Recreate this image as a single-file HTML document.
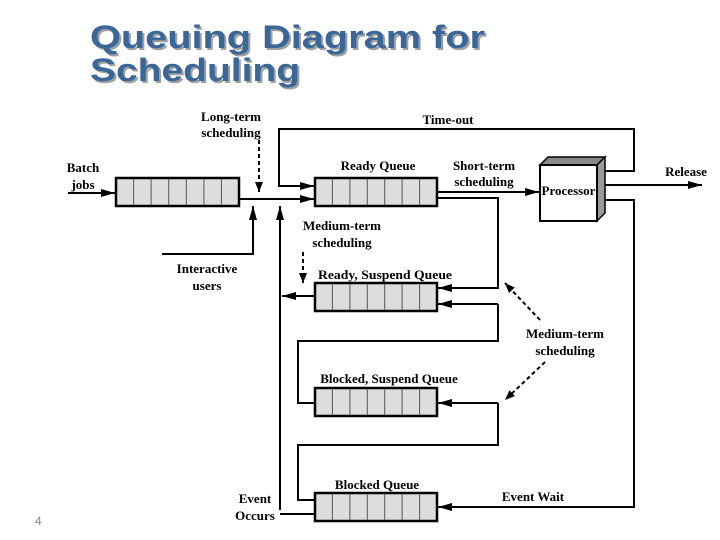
<!DOCTYPE html>
<html><head><meta charset="utf-8"><style>
html,body{margin:0;padding:0;background:#fff;width:720px;height:540px;overflow:hidden}
svg{display:block}
.t{font-family:"Liberation Serif",serif;font-weight:bold;font-size:13px;fill:#000}
.h{font-family:"Liberation Sans",sans-serif;font-weight:bold;font-size:32px}
</style></head><body>
<svg width="720" height="540" viewBox="0 0 720 540">
<defs>
<marker id="a" markerWidth="10" markerHeight="8" refX="10" refY="4" orient="auto" markerUnits="userSpaceOnUse"><path d="M0,0 L10,4 L0,8 Z" fill="#000"/></marker>
<marker id="b" markerWidth="14" markerHeight="8" refX="14" refY="4" orient="auto" markerUnits="userSpaceOnUse"><path d="M0,0 L14,4 L0,8 Z" fill="#000"/></marker>
</defs>
<g class="h">
<text x="92" y="50" fill="#a0a0a0" textLength="395" lengthAdjust="spacingAndGlyphs">Queuing Diagram for</text>
<text x="90" y="48" fill="#3b6798" textLength="395" lengthAdjust="spacingAndGlyphs">Queuing Diagram for</text>
<text x="92" y="83" fill="#a0a0a0" textLength="210" lengthAdjust="spacingAndGlyphs">Scheduling</text>
<text x="90" y="81" fill="#3b6798" textLength="210" lengthAdjust="spacingAndGlyphs">Scheduling</text>
</g>
<text x="35" y="525" font-family="Liberation Sans,sans-serif" font-size="12" fill="#888">4</text>
<g stroke="#000" stroke-width="2.5" fill="#ddd">
<rect x="116" y="178" width="123" height="28"/>
<rect x="315" y="178" width="122" height="28"/>
<rect x="315" y="283" width="122" height="28"/>
<rect x="315" y="388" width="122" height="28"/>
<rect x="315" y="493" width="122" height="28"/>
</g>
<g stroke="#555" stroke-width="1">
<path d="M133.6,179V205M151.1,179V205M168.7,179V205M186.3,179V205M203.9,179V205M221.4,179V205"/>
<path d="M332.4,179V205M349.9,179V205M367.3,179V205M384.7,179V205M402.1,179V205M419.6,179V205"/>
<path d="M332.4,284V310M349.9,284V310M367.3,284V310M384.7,284V310M402.1,284V310M419.6,284V310"/>
<path d="M332.4,389V415M349.9,389V415M367.3,389V415M384.7,389V415M402.1,389V415M419.6,389V415"/>
<path d="M332.4,494V520M349.9,494V520M367.3,494V520M384.7,494V520M402.1,494V520M419.6,494V520"/>
</g>
<g stroke="#000" stroke-width="2" fill="none">
<path d="M68,193H115" marker-end="url(#b)"/>
<path d="M239,199H314" marker-end="url(#b)"/>
<path d="M162,254H253V206" marker-end="url(#b)"/>
<path d="M280,510V206" marker-end="url(#b)"/>
<path d="M597,171H634V129H279V186H314" marker-end="url(#b)"/>
<path d="M437,192H539" marker-end="url(#b)"/>
<path d="M437,198H498V288H438" marker-end="url(#b)"/>
<path d="M315,296H282" marker-end="url(#b)"/>
<path d="M498,304V341H298V403H314"/>
<path d="M498,304H438" marker-end="url(#b)"/>
<path d="M498,403V445H298V500H314"/>
<path d="M498,403H438" marker-end="url(#b)"/>
<path d="M597,200H634V507H438" marker-end="url(#b)"/>
<path d="M315,514H280"/>
<path d="M597,185H702" marker-end="url(#b)"/>
</g>
<g stroke="#000" stroke-width="2" fill="none" stroke-dasharray="4,3">
<path d="M259,140V192" marker-end="url(#a)"/>
<path d="M303,252V283" marker-end="url(#a)"/>
<path d="M540,320L505,283" marker-end="url(#a)"/>
<path d="M545,362L505,400" marker-end="url(#a)"/>
</g>
<path d="M540,165L548,157H605L597,165Z" fill="#888" stroke="#000" stroke-width="1.5"/>
<path d="M597,165L605,157V213L597,221Z" fill="#999" stroke="#000" stroke-width="1.5"/>
<rect x="540" y="165" width="57" height="56" fill="#fff" stroke="#000" stroke-width="2"/>
<text class="t" x="568.5" y="195" text-anchor="middle" font-size="10.5">Processor</text>
<g class="t" text-anchor="middle">
<text x="83" y="172">Batch</text><text x="83" y="189">jobs</text>
<text x="231" y="121">Long-term</text><text x="231" y="137">scheduling</text>
<text x="448" y="124">Time-out</text>
<text x="378" y="170">Ready Queue</text>
<text x="484" y="170">Short-term</text><text x="484" y="186">scheduling</text>
<text x="686" y="176">Release</text>
<text x="342" y="230">Medium-term</text><text x="342" y="247">scheduling</text>
<text x="207" y="273">Interactive</text><text x="207" y="290">users</text>
<text x="385" y="279" textLength="134" lengthAdjust="spacingAndGlyphs">Ready, Suspend Queue</text>
<text x="565" y="338">Medium-term</text><text x="565" y="355">scheduling</text>
<text x="389" y="383">Blocked, Suspend Queue</text>
<text x="377" y="489">Blocked Queue</text>
<text x="533" y="501">Event Wait</text>
<text x="255" y="503">Event</text><text x="255" y="520">Occurs</text>
</g>
</svg>
</body></html>
